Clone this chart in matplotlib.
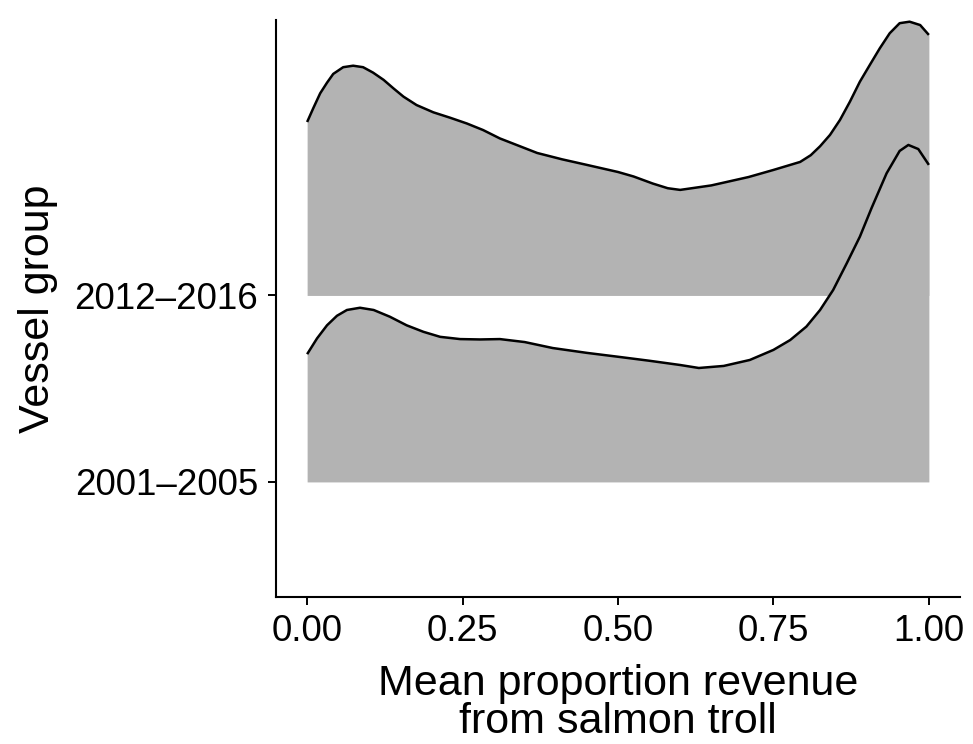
import numpy as np
import matplotlib.pyplot as plt

plt.rcParams['font.family'] = ['Liberation Sans', 'DejaVu Sans']

# vessel groups, bottom to top
groups = ['2001\u20132005', '2012\u20132016']

# density ridge for 2012-2016 (x = proportion revenue, h = scaled density)
x_late = [0.000, 0.010, 0.021, 0.032, 0.042, 0.058, 0.074, 0.090, 0.106, 0.123,
          0.139, 0.155, 0.176, 0.203, 0.230, 0.257, 0.283, 0.310, 0.370, 0.410,
          0.450, 0.500, 0.525, 0.556, 0.580, 0.600, 0.650, 0.710, 0.750, 0.793,
          0.810, 0.825, 0.841, 0.857, 0.873, 0.889, 0.905, 0.921, 0.937, 0.953,
          0.969, 0.986, 1.000]
h_late = [0.930, 1.005, 1.084, 1.141, 1.188, 1.224, 1.232, 1.224, 1.195, 1.156,
          1.110, 1.066, 1.021, 0.982, 0.953, 0.922, 0.887, 0.842, 0.764, 0.730,
          0.700, 0.662, 0.638, 0.600, 0.575, 0.566, 0.590, 0.635, 0.673, 0.716,
          0.752, 0.800, 0.861, 0.941, 1.039, 1.146, 1.236, 1.325, 1.406, 1.460,
          1.468, 1.450, 1.397]

# density ridge for 2001-2005
x_early = [0.000, 0.016, 0.032, 0.048, 0.064, 0.085, 0.107, 0.133, 0.160, 0.187,
           0.214, 0.246, 0.278, 0.310, 0.350, 0.395, 0.450, 0.503, 0.550, 0.600,
           0.630, 0.670, 0.712, 0.750, 0.777, 0.803, 0.825, 0.846, 0.868, 0.889,
           0.908, 0.932, 0.953, 0.967, 0.983, 1.000]
h_early = [0.685, 0.770, 0.840, 0.891, 0.922, 0.934, 0.922, 0.886, 0.840, 0.805,
           0.778, 0.766, 0.764, 0.766, 0.750, 0.718, 0.692, 0.670, 0.650, 0.627,
           0.611, 0.622, 0.654, 0.708, 0.761, 0.833, 0.922, 1.029, 1.173, 1.315,
           1.470, 1.655, 1.775, 1.807, 1.785, 1.700]

xticks = [0.00, 0.25, 0.50, 0.75, 1.00]
xtick_labels = ['0.00', '0.25', '0.50', '0.75', '1.00']

fig = plt.figure(figsize=(9.73, 7.44), dpi=100)
ax = fig.add_axes([0.2837, 0.1976, 0.7029, 0.7755])

# upper ridge first so the lower one sits on top of it
ridges = [(2, x_late, h_late), (1, x_early, h_early)]
for base, xs, hs in ridges:
    xs = np.array(xs)
    top = base + np.array(hs)
    ax.fill_between(xs, base, top, color='#B3B3B3', linewidth=0)
    ax.plot(xs, top, color='black', linewidth=1.8,
            solid_joinstyle='round', solid_capstyle='butt')

ax.set_xlim(-0.05, 1.05)
ax.set_ylim(0.383, 3.477)
ax.set_xticks(xticks)
ax.set_xticklabels(xtick_labels)
ax.set_yticks([1, 2])
ax.set_yticklabels(groups)

for side in ['top', 'right']:
    ax.spines[side].set_visible(False)
for side in ['left', 'bottom']:
    ax.spines[side].set_linewidth(1.5)
ax.tick_params(axis='both', direction='out', length=6, width=1.4,
               labelsize=26.5, colors='black')
ax.tick_params(axis='x', pad=6)
ax.tick_params(axis='y', pad=7)

ax.set_xlabel('Mean proportion revenue\nfrom salmon troll', fontsize=31,
              linespacing=0.95, labelpad=11)
ax.set_ylabel('Vessel group', fontsize=31, labelpad=12)

fig.savefig('out.png', dpi=100)
